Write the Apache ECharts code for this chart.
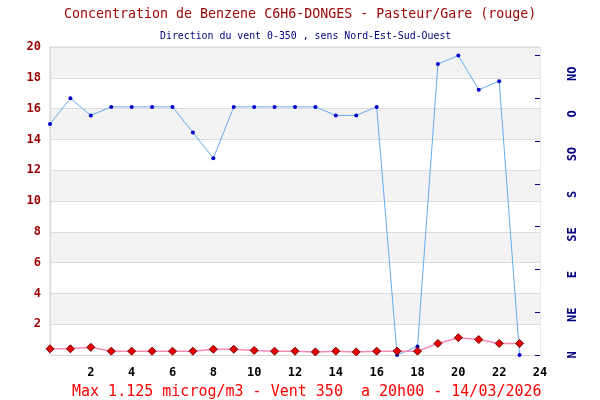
<!DOCTYPE html>
<html>
<head>
<meta charset="utf-8">
<script src="https://cdn.jsdelivr.net/npm/echarts@6/dist/echarts.min.js"></script>
<style>
  html, body { margin: 0; padding: 0; background: #fff; }
  #chart { width: 600px; height: 400px; }
</style>
</head>
<body>
<div id="chart"></div>
<script>
// heures de la journee
var hours = [0, 1, 2, 3, 4, 5, 6, 7, 8, 9, 10, 11, 12, 13, 14, 15, 16, 17, 18, 19, 20, 21, 22, 23];
// benzene C6H6 (microg/m3)
var benzene = [0.4, 0.4, 0.5, 0.25, 0.25, 0.25, 0.25, 0.25, 0.375, 0.375, 0.3, 0.25,
               0.25, 0.2, 0.25, 0.2, 0.25, 0.25, 0.25, 0.75, 1.125, 1.0, 0.75, 0.75];
// direction du vent (degres)
var windDir = [270, 300, 280, 290, 290, 290, 290, 260, 230, 290, 290, 290,
               290, 290, 280, 280, 290, 0, 10, 340, 350, 310, 320, 0];
var windTicks = [0, 50, 100, 150, 200, 250, 300, 350];
var windNames = ['N', 'NE', 'E', 'SE', 'S', 'SO', 'O', 'NO'];

var mono = 'DejaVu Sans Mono';

var myChart = echarts.init(document.getElementById('chart'));
myChart.setOption({
  animation: false,
  backgroundColor: '#fff',
  title: [
    {
      text: 'Concentration de Benzene C6H6-DONGES - Pasteur/Gare (rouge)',
      left: 59, top: 3,
      textStyle: { color: '#990000', fontFamily: mono, fontSize: 13.3, fontWeight: 'normal' }
    },
    {
      text: 'Direction du vent 0-350 , sens Nord-Est-Sud-Ouest',
      left: 155, top: 26,
      textStyle: { color: '#000080', fontFamily: mono, fontSize: 9.9, fontWeight: 'normal' }
    },
    {
      text: 'Max 1.125 microg/m3 - Vent 350  a 20h00 - 14/03/2026',
      left: 67, top: 380,
      textStyle: { color: '#ff0000', fontFamily: mono, fontSize: 15, fontWeight: 'normal' }
    }
  ],
  grid: {
    left: 50, right: 60, top: 47, bottom: 45,
    show: true,
    borderColor: '#d6d6d6',
    borderWidth: 1,
    backgroundColor: 'transparent'
  },
  xAxis: {
    type: 'value',
    min: 0, max: 24, interval: 2,
    axisLine: { lineStyle: { color: '#d6d6d6' } },
    axisTick: { show: false },
    splitLine: { show: false },
    axisLabel: {
      color: '#000', fontFamily: mono, fontWeight: 'bold', fontSize: 12, margin: 12,
      formatter: function (v) { return v === 0 ? '' : v; }
    }
  },
  yAxis: [
    {
      type: 'value',
      min: 0, max: 20, interval: 2,
      axisLine: { show: true, lineStyle: { color: '#d6d6d6' } },
      axisTick: { show: false },
      splitLine: { lineStyle: { color: '#dcdcdc' } },
      splitArea: { show: true, areaStyle: { color: ['#ffffff', '#f3f3f3'] } },
      axisLabel: {
        color: '#990000', fontFamily: mono, fontWeight: 'bold', fontSize: 12, margin: 9,
        formatter: function (v) { return v === 0 ? '' : v; }
      }
    },
    {
      type: 'value',
      position: 'right',
      min: 0, max: 360,
      axisLine: { show: false },
      axisTick: {
        show: true, inside: true, length: 5,
        customValues: windTicks,
        lineStyle: { color: '#000080' }
      },
      axisLabel: { show: false },
      splitLine: { show: false }
    },
    {
      type: 'value',
      position: 'right',
      min: 0, max: 345, interval: 45,
      axisLine: { show: false },
      axisTick: { show: false },
      splitLine: { show: false },
      axisLabel: {
        rotate: 90, margin: 27,
        color: '#000080', fontFamily: mono, fontWeight: 'bold', fontSize: 12,
        formatter: function (v) {
          var i = v / 45;
          return i === Math.floor(i) && i < windNames.length ? windNames[i] : '';
        }
      }
    }
  ],
  series: [
    {
      name: 'vent',
      type: 'line',
      yAxisIndex: 1,
      data: hours.map(function (h, i) { return [h, windDir[i]]; }),
      symbol: 'circle',
      symbolSize: 4,
      itemStyle: { color: '#0000c8' },
      lineStyle: { color: '#66aaee', width: 1 },
      z: 3
    },
    {
      name: 'benzene',
      type: 'line',
      yAxisIndex: 0,
      data: hours.map(function (h, i) { return [h, benzene[i]]; }),
      symbol: 'diamond',
      symbolSize: 8,
      itemStyle: { color: '#e60000', borderColor: '#7a0000', borderWidth: 1 },
      lineStyle: { color: '#f58ab8', width: 1.5 },
      z: 4
    }
  ]
});
</script>
</body>
</html>
